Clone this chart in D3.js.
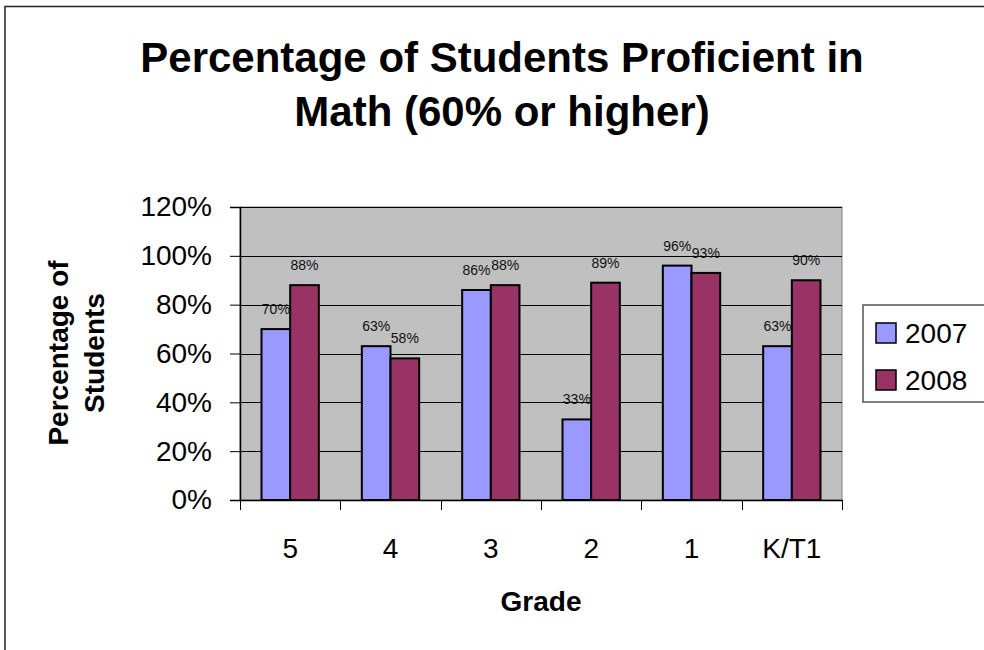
<!DOCTYPE html>
<html>
<head>
<meta charset="utf-8">
<script src="https://cdn.jsdelivr.net/npm/d3@7"></script>
<style>
  body { margin: 0; background: #fff; }
  text { font-family: Arial, "Liberation Sans", sans-serif; }
</style>
</head>
<body>
<svg width="984" height="650"></svg>
<script>
var grades = ["5", "4", "3", "2", "1", "K/T1"];
var years = ["2007", "2008"];
var pct2007 = [70, 63, 86, 33, 96, 63];
var pct2008 = [88, 58, 88, 89, 93, 90];
var yTicks = [0, 20, 40, 60, 80, 100, 120];
var colors = ["#9999ff", "#993366"];

var svg = d3.select("svg"),
    margin = {top: 207, right: 142, bottom: 150, left: 240},
    width = 984 - margin.left - margin.right,
    height = 650 - margin.top - margin.bottom;

// chart frame (right and bottom edges fall off the page)
svg.append("rect")
    .attr("x", 5).attr("y", 6.5)
    .attr("width", 1000).attr("height", 700)
    .attr("fill", "#fff")
    .attr("stroke", "#222")
    .attr("stroke-width", 1.5);

var g = svg.append("g").attr("transform", "translate(" + margin.left + "," + margin.top + ")");

var x = d3.scaleBand().domain(grades).range([0, width]),
    y = d3.scaleLinear().domain([0, 120]).range([height, 0]);

var bw = x.bandwidth() / 3.5;
var x1 = d3.scaleBand().domain(years).range([0.75 * bw, 2.75 * bw]);

g.append("rect")
    .attr("width", width).attr("height", height)
    .attr("fill", "#c0c0c0")
    .attr("stroke", "#808080");

g.append("g")
    .selectAll("line")
    .data(yTicks.slice(1))
    .enter().append("line")
      .attr("x1", 0).attr("x2", width)
      .attr("y1", function(d) { return Math.round(y(d)) + 0.5; })
      .attr("y2", function(d) { return Math.round(y(d)) + 0.5; })
      .attr("stroke", "#000");

var data = grades.map(function(c, i) {
  return {grade: c, values: [{year: "2007", v: pct2007[i]}, {year: "2008", v: pct2008[i]}]};
});

var grp = g.selectAll(".grp")
  .data(data)
  .enter().append("g")
    .attr("transform", function(d) { return "translate(" + x(d.grade) + ",0)"; });

grp.selectAll("rect")
  .data(function(d) { return d.values; })
  .enter().append("rect")
    .attr("x", function(d) { return x1(d.year); })
    .attr("y", function(d) { return y(d.v); })
    .attr("width", x1.bandwidth())
    .attr("height", function(d) { return height - y(d.v); })
    .attr("fill", function(d, i) { return colors[i]; })
    .attr("stroke", "#000")
    .attr("stroke-width", 2);

grp.selectAll(".lbl")
  .data(function(d) { return d.values; })
  .enter().append("text")
    .attr("class", "lbl")
    .attr("x", function(d) { return x1(d.year) + x1.bandwidth() / 2; })
    .attr("y", function(d) { return y(d.v) - 15; })
    .attr("text-anchor", "middle")
    .style("font-size", "14px")
    .attr("fill", "#111")
    .text(function(d) { return d.v + "%"; });

// y axis
var yAxis = g.append("g")
    .call(d3.axisLeft(y).tickValues(yTicks).tickSize(10).tickPadding(18)
      .tickFormat(function(d) { return d + "%"; }));
yAxis.select(".domain").attr("stroke", "#000").attr("stroke-width", 1.5);
yAxis.selectAll("text").style("font-size", "28px").attr("fill", "#000");

// x axis: ticks at band edges
var xAxis = g.append("g")
    .attr("transform", "translate(0," + height + ")")
    .call(d3.axisBottom(x).tickSize(0).tickPadding(38));
xAxis.select(".domain").attr("stroke", "#000").attr("stroke-width", 1.5);
xAxis.selectAll("text").style("font-size", "28px").attr("fill", "#000");
xAxis.selectAll(".edge")
  .data(d3.range(grades.length + 1))
  .enter().append("line")
    .attr("x1", function(i) { return Math.round(i * x.step()) + 0.5; })
    .attr("x2", function(i) { return Math.round(i * x.step()) + 0.5; })
    .attr("y1", 0).attr("y2", 10)
    .attr("stroke", "#000");

// titles
var title = svg.append("text")
    .attr("text-anchor", "middle")
    .style("font-size", "42px")
    .style("font-weight", "bold");
title.append("tspan").attr("x", 502).attr("y", 72).text("Percentage of Students Proficient in");
title.append("tspan").attr("x", 502).attr("y", 126).text("Math (60% or higher)");

svg.append("text")
    .attr("x", margin.left + width / 2).attr("y", 611)
    .attr("text-anchor", "middle")
    .style("font-size", "28px").style("font-weight", "bold")
    .text("Grade");

var yt = svg.append("text")
    .attr("transform", "translate(0,353) rotate(-90)")
    .attr("text-anchor", "middle")
    .style("font-size", "28px").style("font-weight", "bold");
yt.append("tspan").attr("x", 0).attr("y", 68).text("Percentage of");
yt.append("tspan").attr("x", 0).attr("y", 104).text("Students");

// legend
var leg = svg.append("g").attr("transform", "translate(863,305)");
leg.append("rect")
    .attr("width", 125).attr("height", 97)
    .attr("fill", "#fff").attr("stroke", "#555").attr("stroke-width", 1.5);
var li = leg.selectAll(".li")
  .data(years)
  .enter().append("g")
    .attr("transform", function(d, i) { return "translate(13," + (18 + i * 47) + ")"; });
li.append("rect")
    .attr("width", 20).attr("height", 20)
    .attr("fill", function(d, i) { return colors[i]; })
    .attr("stroke", "#000").attr("stroke-width", 1.5);
li.append("text")
    .attr("x", 29).attr("y", 20)
    .style("font-size", "28px")
    .text(function(d) { return d; });
</script>
</body>
</html>
